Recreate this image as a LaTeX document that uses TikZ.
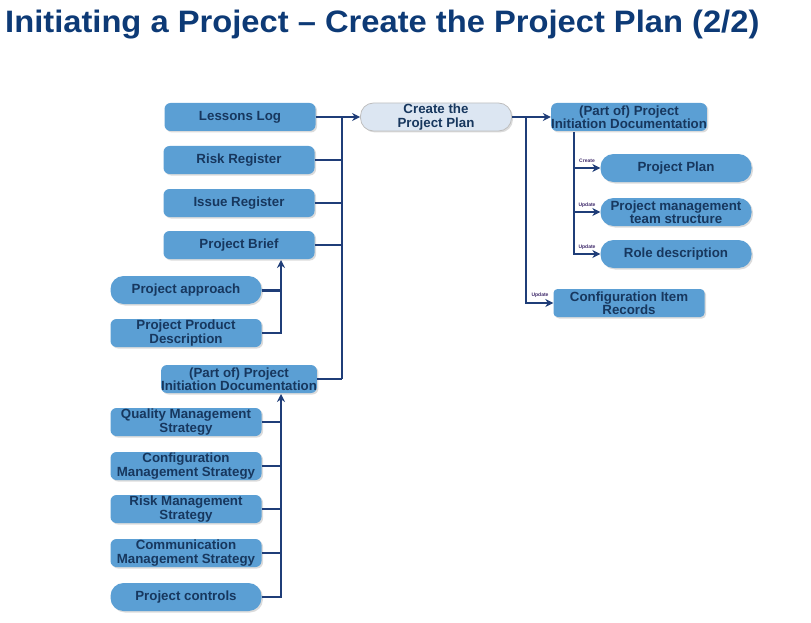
\documentclass[tikz,border=0pt]{standalone}
\usepackage{fontspec}
\setmainfont{Liberation Sans}
\newfontfamily\titlefont[FakeStretch=1.055]{Liberation Sans}
\usetikzlibrary{arrows.meta,shadows}

\definecolor{boxblue}{HTML}{5B9FD4}
\definecolor{navy}{HTML}{17375E}
\definecolor{titleblue}{HTML}{0D3A76}
\definecolor{linenavy}{HTML}{1F3D78}
\definecolor{paleblue}{HTML}{DCE6F2}
\definecolor{tagpurple}{HTML}{3F2A6B}

\begin{document}
\begin{tikzpicture}[x=1pt,y=-1pt,
    box/.style={rectangle, rounded corners=6pt, fill=boxblue, text=navy,
      minimum width=151pt, minimum height=28pt, inner sep=0pt, align=center,
      font=\fontsize{13.3}{13.5}\selectfont\bfseries,
      drop shadow={shadow xshift=1.5pt, shadow yshift=-1.5pt, fill=black!28}},
    pill/.style={box, rounded corners=13pt},
    conn/.style={draw=linenavy, line width=2pt},
    thinconn/.style={draw=linenavy, line width=1.3pt},
    tip/.style={-{Stealth[length=8pt,width=8pt]}},
    tag/.style={font=\fontsize{5}{5}\selectfont\bfseries, text=tagpurple, inner sep=0pt}
  ]
  \useasboundingbox (0,0) rectangle (811,623);

  % title
  \node[anchor=base west, text=titleblue, inner sep=0pt,
    font=\titlefont\fontsize{31}{31}\selectfont\bfseries] (title) at (5,33)
    {Initiating a Project – Create the Project Plan (2/2)};

  % inputs
  \node[box] (lessons) at (240,117) {Lessons Log};
  \node[box] (riskreg) at (239,160) {Risk Register};
  \node[box] (issuereg) at (239,203) {Issue Register};
  \node[box] (brief) at (239,245) {Project Brief};
  \node[pill] (approach) at (186,290) {Project approach};
  \node[box] (ppd) at (186,333) {Project Product\\Description};
  \node[box] (pidleft) at (239,379) {(Part of) Project\\Initiation Documentation};
  \node[box] (qms) at (186,422) {Quality Management\\Strategy};
  \node[box] (cms) at (186,466) {Configuration\\Management Strategy};
  \node[box] (rms) at (186,509) {Risk Management\\Strategy};
  \node[box] (comms) at (186,553) {Communication\\Management Strategy};
  \node[pill] (controls) at (186,597) {Project controls};

  % activity and outputs
  \node[pill, fill=paleblue, draw=black!25, line width=0.8pt] (create) at (436,117) {Create the\\Project Plan};
  \node[box] (pidright) at (629,117) {(Part of) Project\\Initiation Documentation};
  \node[pill] (plan) at (676,168) {Project Plan};
  \node[pill] (team) at (676,212) {Project management\\team structure};
  \node[pill] (role) at (676,254) {Role description};
  \node[box, rounded corners=4pt] (cir) at (629,303) {Configuration Item\\Records};

  % bus into the activity
  \coordinate (bustop) at (342,117);
  \coordinate (busbot) at (342,379);
  \draw[conn] (bustop) -- (busbot);
  \draw[conn, tip] (lessons.east) -- (create.west);
  \foreach \n in {riskreg, issuereg, brief}
    \draw[conn] (\n.east) -- (\n.east -| bustop);
  \draw[conn] (pidleft.east) -- (busbot);

  % into the brief
  \coordinate (briefin) at (281,260);
  \draw[conn, line width=3pt] (approach.east) -- (approach.east -| briefin);
  \draw[thinconn, tip] (ppd.east) -| (briefin);

  % into the PID
  \coordinate (pidin) at (281,394);
  \draw[thinconn, tip] (controls.east) -| (pidin);
  \foreach \n in {qms, cms, rms, comms}
    \draw[thinconn] (\n.east) -- (\n.east -| pidin);

  % out of the activity
  \coordinate (split) at (526,117);
  \draw[conn] (create.east) -- (split);
  \draw[conn, tip] (split) -- (pidright.west);
  \draw[conn, tip] (split) |- (cir.west);
  \node[tag] (tagcir) at (540,295) {Update};

  % PID parts
  \coordinate (sub) at (574,132);
  \draw[conn, tip] (sub) |- (role.west);
  \draw[conn, tip] (plan.west -| sub) -- (plan.west);
  \draw[conn, tip] (team.west -| sub) -- (team.west);
  \node[tag] (tagplan) at (587,161) {Create};
  \node[tag] (tagteam) at (587,205) {Update};
  \node[tag] (tagrole) at (587,247) {Update};
\end{tikzpicture}
\end{document}
